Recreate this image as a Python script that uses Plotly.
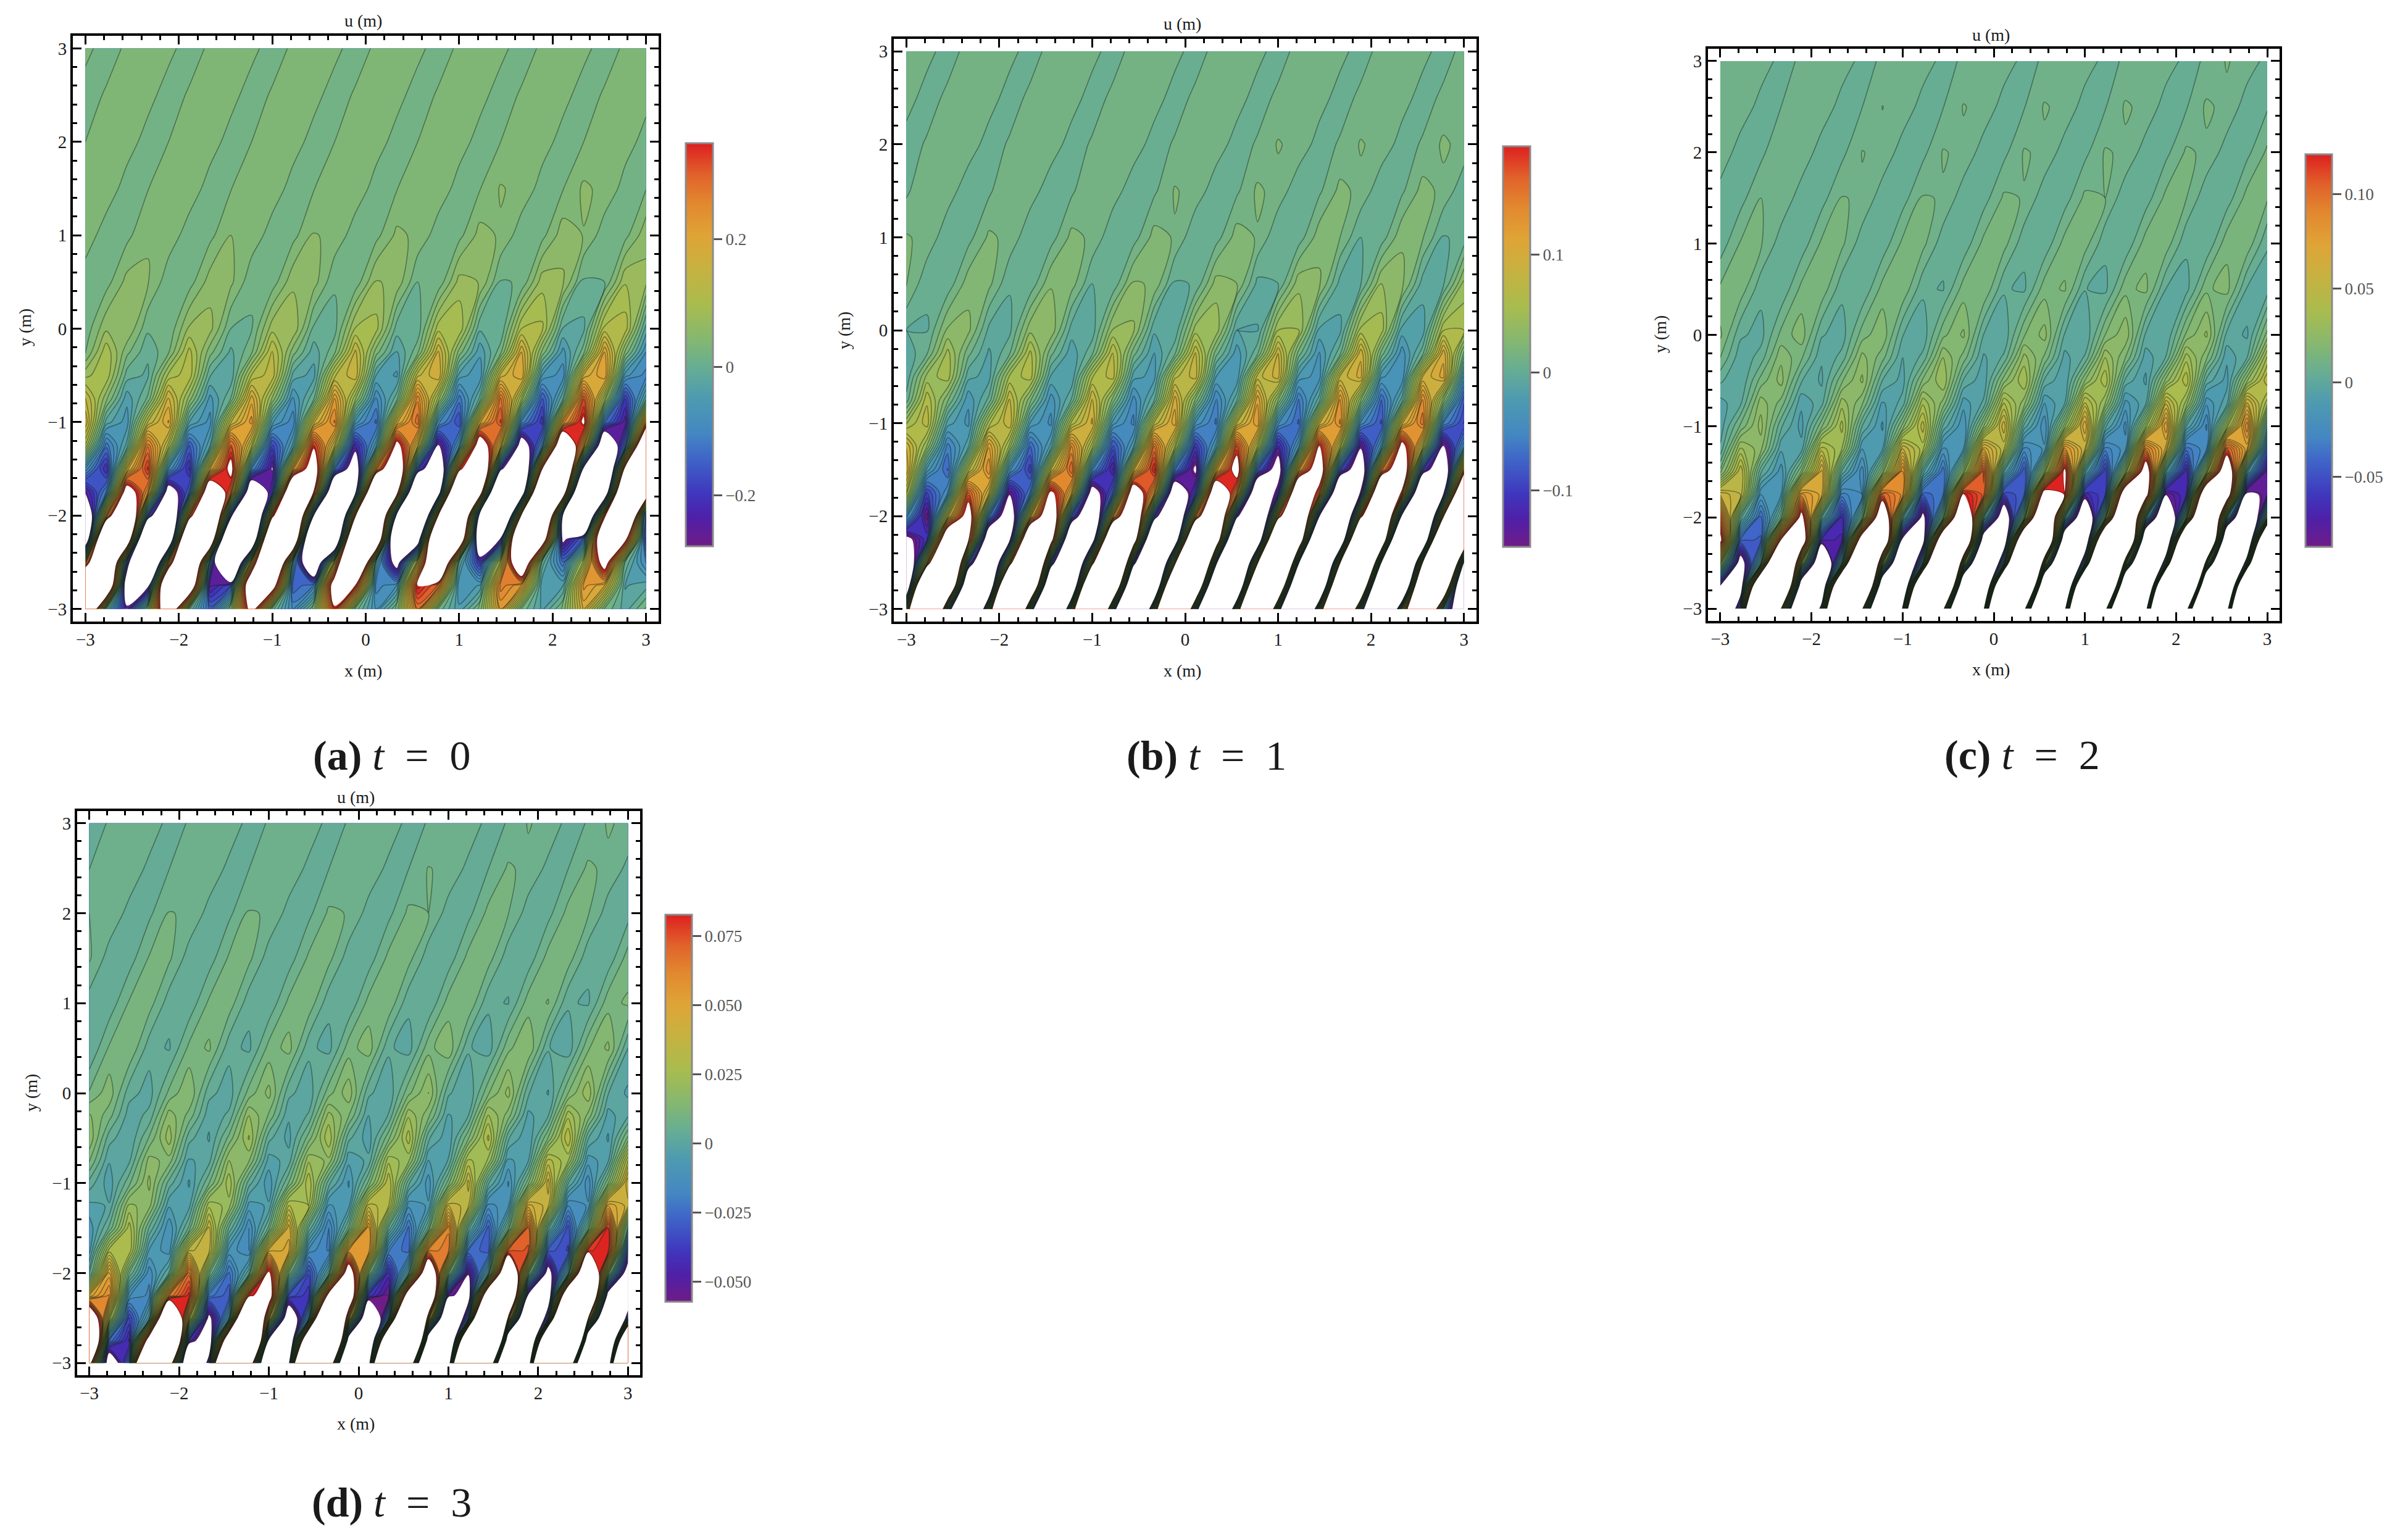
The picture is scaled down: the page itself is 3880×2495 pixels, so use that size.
import numpy as np
import plotly.graph_objects as go

W, H = 3880, 2495

x_grid = [-3.0, -2.778, -2.556, -2.333, -2.111, -1.889, -1.667, -1.444, -1.222, -1.0,
          -0.778, -0.556, -0.333, -0.111, 0.111, 0.333, 0.556, 0.778, 1.0, 1.222,
          1.444, 1.667, 1.889, 2.111, 2.333, 2.556, 2.778, 3.0]
y_grid = [3, 2.5, 2, 1.5, 1, 0.5, 0, -0.25, -0.5, -0.75, -1, -1.25, -1.5, -1.75, -2, -2.25, -2.5, -2.75, -3]

# field values, in thousandths of a metre, one row per y_grid entry
u_a = [
    [5,-8,3,16,5,-8,3,16,5,-8,3,16,5,-8,3,16,5,-8,3,16,5,-8,3,16,5,-8,3,16],
    [-8,2,16,6,-8,2,16,6,-8,2,16,6,-8,2,16,6,-8,2,16,6,-8,2,16,6,-8,2,16,6],
    [0,15,8,-7,0,15,8,-7,0,15,8,-7,0,15,8,-7,0,15,8,-7,0,15,8,-7,0,15,8,-7],
    [18,11,-8,-1,18,11,-8,-1,18,11,-8,-1,19,12,-8,-1,20,12,-8,-1,22,13,-8,-1,24,14,-8,-1],
    [11,-10,-6,18,12,-10,-6,20,13,-10,-7,22,14,-11,-7,25,15,-11,-7,28,17,-12,-7,32,19,-12,-7,34],
    [-11,-9,27,22,-13,-10,30,25,-15,-12,35,29,-17,-14,42,34,-20,-16,48,39,-22,-18,52,43,-25,-20,58,46],
    [-14,36,40,-16,-18,44,48,-20,-22,52,58,-25,-28,62,68,-30,-34,72,78,-36,-40,80,85,-42,-45,88,92,-48],
    [-3,75,6,-36,-3,88,8,-45,-4,105,9,-52,-5,125,10,-62,-6,142,12,-75,-7,160,14,-88,-8,180,15,-100],
    [54,76,-30,-44,66,94,-39,-56,81,114,-48,-68,96,136,-60,-84,114,160,-69,-96,129,180,-81,-112,144,200,-93,-128],
    [122,26,-74,-16,147,31,-88,-19,172,36,-103,-22,201,43,-122,-26,235,50,-152,-33,265,57,-186,-39,299,63,-220,-47],
    [157,-50,-91,100,183,-60,-109,118,209,-75,-135,133,244,-90,-165,150,274,-110,-200,170,305,-125,-231,200,365,-152,-274,235],
    [77,-152,-53,257,90,-180,-62,295,102,-209,-74,333,115,-247,-86,390,138,-295,-102,456,160,-356,-128,570,205,-466,-166,703],
    [-105,-240,140,327,-100,-244,152,386,-117,-285,183,451,-144,-368,226,570,-187,-470,285,708,-234,-598,339,828,-304,-764,398,900],
    [-270,-138,432,220,-351,-176,540,275,-450,-228,675,340,-567,-292,792,396,-720,-370,900,456,-900,-443,900,503,-900,-486,900,546],
    [-500,207,750,-174,-634,244,874,-224,-806,286,900,-274,-900,322,900,-308,-900,344,900,-330,-900,356,900,-280,-768,310,900,-179],
    [-470,880,583,-840,-556,900,632,-900,-600,900,686,-900,-620,900,650,-672,-400,900,567,-445,-270,806,475,-302,-173,630,383,-202],
    [208,900,-190,-900,200,900,-136,-740,176,900,-86,-505,155,900,-64,-337,122,713,-40,-228,96,564,-27,-158,75,426,-22,-124],
    [850,670,-400,-310,710,560,-270,-200,560,440,-177,-138,447,346,-131,-99,354,272,-100,-77,254,198,-77,-61,208,160,-62,-48],
    [750,-25,-260,20,560,-15,-170,14,420,-10,-125,10,335,-7,-100,7,260,-5,-75,6,200,-4,-65,5,165,-3,-50,4],
]
u_b = [
    [10,3,-4,3,10,3,-4,3,10,3,-4,3,10,3,-4,3,10,3,-4,3,10,3,-4,3,10,3,-4,3],
    [4,-4,2,10,4,-4,2,10,4,-4,2,10,4,-4,2,10,4,-4,2,10,4,-4,2,10,4,-4,2,10],
    [-4,1,9,5,-4,1,9,5,-4,1,10,5,-4,1,10,5,-4,1,11,6,-4,1,11,6,-4,1,12,6],
    [-2,9,5,-6,-2,10,5,-6,-2,10,5,-6,-2,11,6,-6,-2,12,6,-7,-2,13,7,-7,-2,14,7,-7],
    [11,7,-7,-4,12,7,-8,-5,13,8,-8,-5,14,9,-9,-5,15,9,-9,-6,16,10,-10,-6,18,11,-11,-7],
    [11,-8,-7,16,13,-9,-8,19,15,-10,-8,22,18,-12,-9,25,20,-13,-10,27,22,-14,-11,30,24,-15,-12,33],
    [-10,-11,22,23,-13,-13,27,28,-15,-16,31,32,-18,-18,35,37,-20,-21,40,41,-23,-23,44,46,-25,-26,49,50],
    [-17,-1,44,3,-22,-1,53,3,-27,-2,62,4,-31,-2,71,4,-36,-2,80,5,-41,-3,88,6,-46,-3,97,6],
    [-18,34,46,-17,-24,42,56,-22,-29,49,65,-26,-34,57,75,-30,-39,65,85,-34,-45,72,94,-38,-50,80,104,-42],
    [-6,58,12,-38,-7,71,13,-46,-9,83,16,-55,-11,96,18,-63,-12,108,21,-71,-14,121,22,-80,-15,133,25,-88],
    [38,66,-25,-43,46,79,-31,-53,54,92,-36,-63,62,106,-42,-72,70,119,-48,-82,78,132,-54,-92,86,146,-60,-101],
    [89,29,-65,-22,109,36,-80,-26,131,43,-95,-31,151,49,-110,-36,173,56,-125,-41,194,63,-141,-46,215,70,-156,-51],
    [100,-34,-81,55,130,-45,-106,69,160,-56,-131,83,191,-67,-156,96,221,-79,-181,110,251,-90,-207,123,281,-101,-232,137],
    [59,-101,-50,163,79,-141,-68,207,98,-180,-86,251,118,-221,-104,294,137,-260,-122,338,157,-301,-140,381,177,-341,-158,425],
    [-39,-146,67,234,-59,-211,83,291,-79,-277,101,347,-98,-342,118,403,-118,-407,135,459,-138,-472,152,516,-157,-537,169,576],
    [-162,-111,308,198,-238,-158,373,238,-315,-205,438,278,-392,-252,504,318,-469,-299,569,358,-546,-346,635,398,-623,-393,692,440],
    [-294,105,624,-62,-380,118,697,-77,-467,130,770,-92,-553,143,842,-107,-639,156,900,-122,-725,169,900,-137,-811,181,900,-152],
    [-279,624,496,-370,-320,624,496,-420,-360,624,496,-470,-400,624,496,-510,-440,624,496,-550,-470,600,480,-580,-490,560,420,-450],
    [50,900,-32,-650,50,900,-32,-700,50,900,-35,-750,50,900,-38,-800,50,900,-40,-800,50,800,-40,-700,40,600,-30,-300],
]
u_c = [
    [0.6,4.4,2.4,-1.4,0.6,4.4,2.4,-1.4,0.6,4.4,2.4,-1.4,0.6,4.4,2.4,-1.4,0.6,4.4,2.4,-1.4,0.6,5,2.4,-1.4,0.6,5.5,2.4,-1.4],
    [4.7,3,-1.7,0,4.9,3.1,-1.9,-0.1,5.1,3.2,-2,-0.2,5.3,3.3,-2.1,-0.3,5.5,3.4,-2.2,-0.4,5.7,3.5,-2.3,-0.5,5.9,3.5,-2.4,-0.6],
    [3.5,-2.5,-1.5,5,3.6,-2.5,-1.5,5.2,3.7,-2.5,-1.5,5.4,3.8,-2.5,-1.5,5.5,3.8,-2.5,-1.5,5.6,3.9,-2.5,-1.5,5.8,4,-2.5,-1.5,6],
    [-2.5,-2,5,4,-2.7,-2.2,5.3,4.3,-2.9,-2.3,5.6,4.5,-3.1,-2.4,5.9,4.7,-3.4,-2.6,6.2,5,-3.6,-2.8,6.5,5.2,-3.9,-3,7,5.7],
    [-3,5.5,5.8,-2.8,-3.2,5.9,6.2,-3,-3.5,6.2,6.6,-3.2,-3.8,6.6,7,-3.5,-4,7.1,7.4,-3.7,-4.3,7.6,8,-4,-4.7,8.3,8.6,-4.5],
    [6,8,-3.3,-4.4,6.5,8.7,-3.6,-4.9,7,9.3,-4,-5.4,7.5,10,-4.4,-5.9,8,10.7,-4.8,-6.4,8.5,11.3,-5.2,-6.9,9,12,-5.7,-7.6],
    [11,-4,-7,6.5,13,-4.4,-7.7,7.5,14,-4.8,-8.3,8.5,16,-5.2,-9,9.5,17,-5.6,-9.7,10,19,-6,-10,11,21,-6.5,-11,12],
    [5,-8.5,-3,14,6,-9.4,-3.3,17,7,-10,-3.7,20,8,-11,-4,22,9,-12,-4.3,25,10,-13,-4.7,28,11,-14,-5,31],
    [-4,-10,7,17,-4.5,-11,9,21,-5,-12,11,25,-5.5,-13.5,13,30,-6,-14.5,15,34,-6.5,-16,17,39,-7,-17,19,44],
    [-12,-6,18,8,-14,-7,23,11,-16,-8,29,13,-18,-9,35,17,-20,-10,42,20,-22,-11,49,23,-24,-12,57,27],
    [-13,6,22,-4,-17,9,32,-5,-21,12,43,-6,-25,15,54,-7,-29,18,65,-8,-32,22,75,-9.5,-36,25,85,-11],
    [-9,26,17,-14,-13,38,25,-20,-16,50,32,-26,-20,64,41,-32,-24,77,50,-38,-27,89,58,-43,-31,102,66,-49],
    [7,45,-4,-23,11,63,-6,-33,14,83,-7,-44,17,107,-9,-55,21,127,-11,-65,24,147,-12,-75,27,168,-14,-86],
    [54,45,-25,-20,77,63,-37,-30,100,83,-49,-40,123,103,-61,-50,143,120,-73,-60,167,140,-85,-70,190,158,-96,-80],
    [100,-1,-46,3,133,-2,-70,4,173,-3,-95,5,213,-3,-118,7,250,-4,-142,7,287,-5,-165,9,327,-6,-190,10],
    [129,-48,-51,122,168,-72,-77,159,206,-96,-102,196,245,-120,-128,231,283,-145,-153,269,322,-170,-179,304,359,-193,-204,340],
    [31,-105,-9,340,38,-155,-14,415,44,-205,-18,490,51,-255,-23,565,58,-300,-27,640,64,-350,-32,715,71,-400,-36,790],
    [-87,-116,258,344,-128,-170,305,407,-168,-224,352,470,-208,-278,400,532,-250,-332,446,595,-290,-386,493,657,-330,-440,540,720],
    [-206,-44,539,115,-286,-61,596,127,-366,-78,653,140,-446,-95,710,152,-526,-112,768,164,-606,-130,825,177,-686,-147,882,189],
]
u_d = [
    [-1.1,0.2,3.5,2.2,-1.1,0.2,3.5,2.2,-1.1,0.2,3.5,2.2,-1.1,0.2,3.5,2.2,-1.1,0.2,3.5,2.2,-1.1,0.2,3.8,2.3,-1.1,0.2,4,2.4],
    [-0.1,3.3,2.5,-0.9,-0.1,3.3,2.5,-0.9,-0.1,3.3,2.5,-0.9,-0.1,3.5,2.5,-0.9,-0.1,3.7,2.5,-0.9,-0.1,4,2.5,-0.9,-0.1,4.2,2.5,-0.9],
    [3.5,2.8,-1.2,-0.8,3.7,3,-1.3,-0.9,3.9,3.1,-1.4,-1,4.1,3.3,-1.5,-1.1,4.3,3.5,-1.6,-1.2,4.5,3.6,-1.7,-1.3,4.7,3.8,-1.8,-1.4],
    [4,-1.7,-1.8,3.8,4.2,-1.8,-1.9,4,4.5,-1.9,-2,4.2,4.7,-2,-2.1,4.5,4.9,-2.2,-2.2,4.7,5.2,-2.3,-2.4,5,5.4,-2.4,-2.5,5.2],
    [-1.8,-2.4,3.9,5.2,-2,-2.7,4.2,5.6,-2.2,-3,4.5,6,-2.4,-3.2,4.8,6.4,-2.6,-3.4,5.1,6.8,-2.8,-3.7,5.4,7.2,-3,-4,5.7,7.6],
    [-3.5,4,7,-2,-3.9,4.4,7.7,-2.2,-4.3,4.8,8.4,-2.5,-4.8,5.3,9.1,-2.8,-5.2,5.7,9.8,-3,-5.6,6.1,10.5,-3.2,-6,6.5,11.3,-3.5],
    [3.9,9.2,-2.1,-5,4.4,10.4,-2.3,-5.5,4.9,11.7,-2.5,-5.9,5.5,12.9,-2.7,-6.4,6,14.1,-2.9,-6.9,6.5,15.3,-3.1,-7.3,7,16.6,-3.3,-7.8],
    [11,5,-5.4,-2.6,12.5,5.8,-5.9,-2.8,14,6.5,-6.5,-3.1,15.5,7.2,-7,-3.3,17,8,-7.5,-3.5,18.5,8.7,-8.1,-3.8,20,9.5,-8.6,-4],
    [13.4,-2,-6.7,3.9,16,-2.2,-7.4,4.6,18,-2.4,-8.2,5.3,20.5,-2.6,-8.9,6,23,-2.8,-9.6,6.6,25.5,-3,-10.3,7.3,28,-3.2,-11,8],
    [7.5,-6.7,-4.3,12,9,-7.7,-4.9,14,11,-8.7,-5.5,17,13,-9.6,-6.1,20,15,-10.6,-6.8,22,17,-11.6,-7.4,26,18,-12.6,-8,28],
    [-1.4,-9,2.5,15,-1.7,-11,3.2,20,-2,-13,3.8,24,-2.3,-14.5,4.6,28,-2.6,-16,5.4,33,-2.9,-18,6,37,-3.2,-20,6.8,42],
    [-8,-6.7,15,12,-10,-8.4,20,16,-12,-10,25,21,-14.5,-12,30,25,-16.5,-13.5,35,29,-19,-15,40,33,-21,-17,45,37],
    [-13,0.7,23,-0.4,-17,0.9,32,-0.5,-21,1.2,41,-0.6,-25,1.5,50,-0.7,-29,1.7,59,-0.8,-33,2,67,-0.9,-37,2.3,77,-1],
    [-12,23,24,-11,-16,31,33,-15,-21,40,43,-19,-25,49,52,-24,-30,58,61,-28,-34,67,71,-33,-39,76,80,-37],
    [-2,47,4,-20,-3,65,6,-29,-4,85,8,-38,-4.5,103,9,-47,-5,122,11,-56,-6,141,13,-66,-7,160,15,-75],
    [43,57,-17,-22,59,79,-26,-34,76,101,-35,-45,92,123,-43,-57,109,145,-52,-69,125,166,-60,-80,141,189,-69,-92],
    [122,26,-39,-8,165,35,-62,-13,208,44,-85,-18,250,53,-108,-23,292,62,-130,-28,333,72,-153,-33,375,81,-176,-38],
    [183,-28,-50,103,240,-45,-80,135,296,-62,-112,168,352,-80,-143,198,410,-97,-173,230,466,-115,-204,262,522,-132,-235,294],
    [96,-81,-28,275,118,-131,-45,340,140,-181,-63,407,163,-230,-80,470,186,-280,-97,536,208,-330,-115,600,231,-380,-132,665],
]

axis_ticks = [-3, -2, -1, 0, 1, 2, 3]
captions = ["<b>(a)</b> <i>t</i>\u2002=\u20020", "<b>(b)</b> <i>t</i>\u2002=\u20021",
            "<b>(c)</b> <i>t</i>\u2002=\u20022", "<b>(d)</b> <i>t</i>\u2002=\u20023"]
cbar_ticks_a = [-0.2, 0, 0.2]
cbar_ticks_b = [-0.1, 0, 0.1]
cbar_ticks_c = [-0.05, 0, 0.05, 0.10]
cbar_ticks_d = [-0.050, -0.025, 0, 0.025, 0.050, 0.075]
cbar_text_a = ["\u22120.2", "0", "0.2"]
cbar_text_b = ["\u22120.1", "0", "0.1"]
cbar_text_c = ["\u22120.05", "0", "0.05", "0.10"]
cbar_text_d = ["\u22120.050", "\u22120.025", "0", "0.025", "0.050", "0.075"]

colorscale = [
    [0.0, "#701c86"], [0.07, "#4f20a8"], [0.13, "#3f36bd"], [0.22, "#3f66c8"], [0.28, "#4487c2"],
    [0.37, "#4e9bb0"], [0.446, "#68ae92"], [0.51, "#83b772"], [0.6, "#a9bc4e"], [0.7, "#cab03f"],
    [0.77, "#dfa436"], [0.85, "#e2882f"], [0.92, "#e1632b"], [1.0, "#dd2020"],
]
# same colours moved down a touch: the stripes near zero sit greener than the bar says
fill_scale = [
    [0.0, "#701c86"], [0.05, "#4f20a8"], [0.1, "#3f36bd"], [0.19, "#3f66c8"], [0.245, "#4487c2"],
    [0.335, "#4e9bb0"], [0.41, "#68ae92"], [0.475, "#83b772"], [0.57, "#a9bc4e"], [0.67, "#cab03f"],
    [0.745, "#dfa436"], [0.825, "#e2882f"], [0.9, "#e1632b"], [0.98, "#dd2020"], [1.0, "#dd2020"],
]
# contour fills stack, so the mask is clear under its one level and white over it
mask_scale = [
    [0.0, "rgba(255,255,255,0)"], [0.25, "rgba(255,255,255,0)"],
    [0.25, "rgba(255,255,255,1)"], [1.0, "rgba(255,255,255,1)"],
]

# frame box, colourbar box and label spots, all in page pixels
panels = [
    dict(z=u_a, zmin=-0.28, zmax=0.35, start=-0.28, end=0.34, size=0.02, frame=(118, 58, 1067, 1007),
         cbar=(1111, 232, 1155, 885), ticks=cbar_ticks_a, text=cbar_text_a,
         u=(588, 34), xl=(588, 1087), yl=(40, 531), cap=(635, 1224)),
    dict(z=u_b, zmin=-0.148, zmax=0.192, start=-0.14, end=0.19, size=0.01, frame=(1448, 63, 2392, 1007),
         cbar=(2435, 237, 2479, 886), ticks=cbar_ticks_b, text=cbar_text_b,
         u=(1915, 39), xl=(1915, 1087), yl=(1367, 536), cap=(1954, 1224)),
    dict(z=u_c, zmin=-0.087, zmax=0.121, start=-0.085, end=0.12, size=0.005, frame=(2767, 79, 3693, 1006),
         cbar=(3735, 250, 3778, 886), ticks=cbar_ticks_c, text=cbar_text_c,
         u=(3225, 56), xl=(3225, 1084), yl=(2689, 542), cap=(3276, 1223)),
    dict(z=u_d, zmin=-0.0572, zmax=0.0826, start=-0.056, end=0.0805, size=0.0035, frame=(125, 1314, 1037, 2228),
         cbar=(1078, 1482, 1121, 2109), ticks=cbar_ticks_d, text=cbar_text_d,
         u=(576, 1291), xl=(576, 2306), yl=(51, 1771), cap=(634, 2434)),
]

SERIF = "Liberation Serif"
SMOOTH = 0.9

fig = go.Figure()
annotations = []
layout = {}


def label(text, pos, size, angle=0):
    annotations.append(dict(text=text, x=pos[0] / W, y=1 - pos[1] / H, xref="paper", yref="paper",
                            xanchor="center", yanchor="middle", showarrow=False, textangle=angle,
                            font=dict(family=SERIF, size=size, color="#1a1a1a")))


for i, p in enumerate(panels, start=1):
    xa, ya = f"x{i}", f"y{i}"
    z = np.array(p["z"][::-1]) / 1000.0
    y = y_grid[::-1]
    cx0, cy0, cx1, cy1 = p["cbar"]
    # filled bands
    fig.add_trace(go.Contour(
        x=x_grid, y=y, z=z, xaxis=xa, yaxis=ya, showscale=False,
        colorscale=fill_scale, autocontour=False, hoverinfo="skip",
        contours=dict(start=p["start"], end=p["end"], size=p["size"], coloring="fill", showlines=False),
        line=dict(smoothing=SMOOTH, width=0),
    ))
    # contour lines on their own trace
    fig.add_trace(go.Contour(
        x=x_grid, y=y, z=z, xaxis=xa, yaxis=ya, showscale=False, autocontour=False, hoverinfo="skip",
        contours=dict(start=p["start"], end=p["end"], size=p["size"], coloring="none"),
        line=dict(smoothing=SMOOTH, width=1.6, color="rgba(25,35,25,0.45)"),
    ))
    # outside the colour range stays white: once over zmax, once under zmin
    for field, level in ((z, p["zmax"]), (-z, -p["zmin"])):
        fig.add_trace(go.Contour(
            x=x_grid, y=y, z=field, xaxis=xa, yaxis=ya, showscale=False, autocontour=False, hoverinfo="skip",
            colorscale=mask_scale,
            contours=dict(start=level, end=level + 5, size=5, coloring="fill", showlines=False),
            line=dict(smoothing=SMOOTH, width=0),
        ))
    # heatmap off the axis range: only its smooth colourbar shows
    fig.add_trace(go.Heatmap(
        x=[10, 11], y=[10], z=[[p["zmin"], p["zmax"]]], xaxis=xa, yaxis=ya, zmin=p["zmin"], zmax=p["zmax"],
        colorscale=colorscale, hoverinfo="skip",
        colorbar=dict(x=cx0 / W, y=1 - cy0 / H, xanchor="left", yanchor="top", xpad=0, ypad=0,
                      thicknessmode="pixels", thickness=cx1 - cx0, lenmode="pixels", len=cy1 - cy0,
                      outlinecolor="#8a8a8a", outlinewidth=3, tickmode="array", tickvals=p["ticks"],
                      ticktext=p["text"], ticks="outside", ticklen=14, tickwidth=3, tickcolor="#555555",
                      tickfont=dict(family=SERIF, size=27, color="#555555")),
    ))

    fx0, fy0, fx1, fy1 = p["frame"]
    axis_common = dict(range=[-3.135, 3.135], tickvals=axis_ticks, showgrid=False, zeroline=False,
                       showline=True, linecolor="black", linewidth=4, mirror="ticks", ticks="inside",
                       ticklen=14, tickwidth=3, tickcolor="black",
                       minor=dict(ticks="inside", ticklen=7, tickwidth=3, tickcolor="black", dtick=0.2),
                       tickfont=dict(family=SERIF, size=29, color="#1a1a1a"))
    layout[f"xaxis{i}"] = dict(axis_common, anchor=ya, domain=[fx0 / W, fx1 / W])
    layout[f"yaxis{i}"] = dict(axis_common, anchor=xa, domain=[1 - fy1 / H, 1 - fy0 / H])

    label("u (m)", p["u"], 28)
    label("x (m)", p["xl"], 28)
    label("y (m)", p["yl"], 28, angle=-90)
    label(captions[i - 1], p["cap"], 68)

fig.update_layout(width=W, height=H, margin=dict(l=0, r=0, t=0, b=0), paper_bgcolor="white",
                  plot_bgcolor="white", showlegend=False, annotations=annotations, **layout)

fig.write_html("out.html", post_script="document.body.style.margin='0';", config={"displayModeBar": False})
